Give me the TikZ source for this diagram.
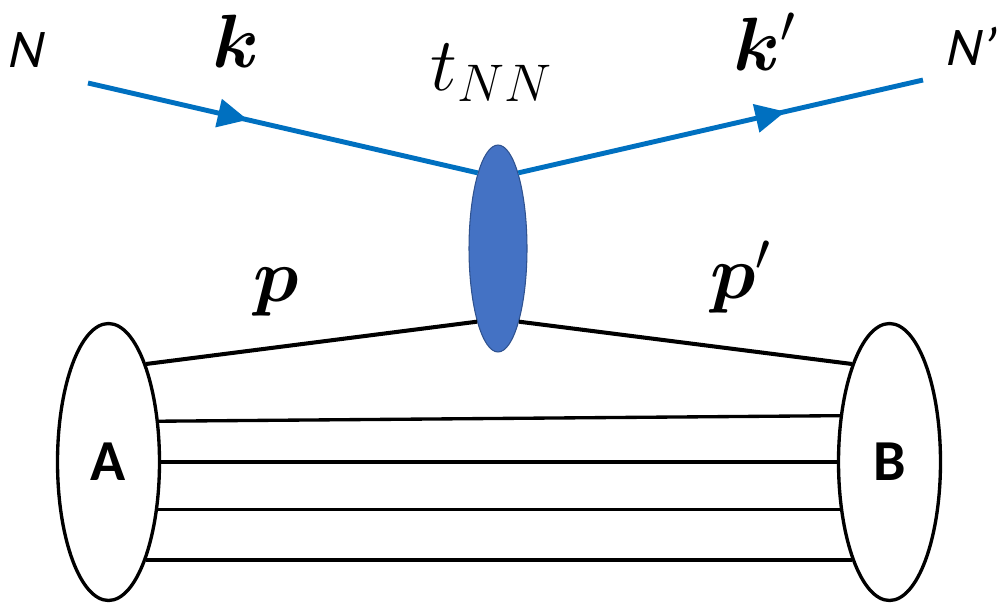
\RequirePackage{fix-cm}
\documentclass[tikz,border=0pt]{standalone}
\usepackage{amsmath, amssymb, bm}
\usepackage{fontspec}
\newfontfamily\carlito{Carlito}
\newfontfamily\carlitosl[FakeSlant=0.22]{Carlito}
\definecolor{lineblue}{RGB}{0, 112, 192}
\definecolor{tblue}{RGB}{68, 114, 196}
\definecolor{tedge}{RGB}{47, 82, 143}
\usetikzlibrary{arrows.meta, shapes.geometric, decorations.markings}

\begin{document}
\begin{tikzpicture}[
      x=0.02cm, y=-0.02cm,
      nucl/.style={draw, ellipse, line width=1.9pt, inner sep=0pt,
                   minimum width=2.04cm, minimum height=5.54cm,
                   font=\carlito\bfseries\fontsize{33}{36}\selectfont},
      tmat/.style={draw=tedge, fill=tblue, ellipse, line width=0.6pt,
                   inner sep=0pt, minimum width=1.16cm, minimum height=4.14cm},
      lbl/.style={inner sep=0pt, font=\fontsize{43}{50}\selectfont},
      nlbl/.style={inner sep=0pt, font=\carlitosl\fontsize{31}{36}\selectfont},
      prop/.style={lineblue, line width=2.8pt},
      midarrow/.style={postaction={decorate}, decoration={markings,
                   mark=at position #1 with {\arrow{Triangle[length=0.6cm, width=0.56cm]}}}},
      mom/.style={line width=2.3pt},
      core/.style={line width=1.9pt}
    ]
    \useasboundingbox (0,0) rectangle (997,603);

    \node[nucl] (A) at (108.5,462) {A};
    \node[nucl] (B) at (889.5,462) {B};
    \node[tmat] (tnn) at (498,248.5) {};
    \coordinate (kin)  at (88,83);
    \coordinate (kout) at (923,80);

    \node[nlbl, anchor=base west] (nin)  at (6,67)    {N};
    \node[nlbl, anchor=base west] (nout) at (944,65)  {N’};
    \node[lbl, anchor=base]       (klab) at (236,67)  {$\bm{k}$};
    \node[lbl, anchor=base west]  (tlab) at (430,90)  {$t_{NN}$};
    \node[lbl, anchor=base west]  (kplab) at (733,70) {$\bm{k}'$};
    \node[lbl, anchor=base]       (plab) at (276,301) {$\bm{p}$};
    \node[lbl, anchor=base west]  (pplab) at (710,298) {$\bm{p}'$};

    % projectile in and out
    \draw[prop, midarrow=0.41] (kin) -- (tnn.105);
    \draw[prop, midarrow=0.66] (tnn.75) -- (kout);

    % struck nucleon
    \draw[mom] (A.69) -- (tnn.254);
    \draw[mom] (tnn.286) -- (B.111);

    % spectators
    \draw[core] (A.39)  -- (B.137);
    \draw[core] (A.east) -- (B.west);
    \draw[core] (A.-44) -- (B.224);
    \draw[core] (A.-69) -- (B.249);
  \end{tikzpicture}
\end{document}
